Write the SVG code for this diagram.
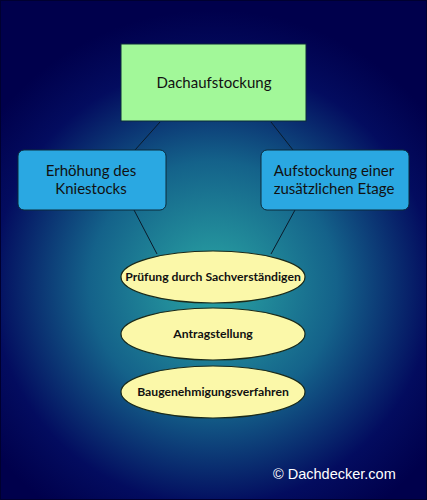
<svg xmlns="http://www.w3.org/2000/svg" width="427" height="500" viewBox="0 0 427 500">
<defs>
<radialGradient id="bg" cx="213" cy="285" r="275" gradientUnits="userSpaceOnUse">
<stop offset="0" stop-color="#2aa6a4"/>
<stop offset="0.45" stop-color="#14628a"/>
<stop offset="0.8" stop-color="#030c5f"/>
<stop offset="1" stop-color="#00004c"/>
</radialGradient>
<style>
.ln{stroke:#0a1a2a;stroke-width:1;fill:none}
.box{stroke:#0a2a3a;stroke-width:1}
.t{font-family:Lato,"Open Sans",sans-serif;fill:#111;text-anchor:middle;font-size:15px}
.e{fill:#fbf8a9;stroke:#1a2a1a;stroke-width:1.2}
.et{font-family:Lato,"Open Sans",sans-serif;fill:#111;text-anchor:middle;font-size:12.2px;font-weight:bold}
</style>
</defs>
<rect x="0" y="0" width="427" height="500" fill="url(#bg)"/>
<rect x="0.5" y="0.5" width="426" height="499" fill="none" stroke="#000030"/>
<g id="connectors">
<line class="ln" x1="160" y1="122" x2="135" y2="150"/>
<line class="ln" x1="271" y1="122" x2="293" y2="150"/>
<line class="ln" x1="134" y1="210" x2="157" y2="254"/>
<line class="ln" x1="295" y1="210" x2="271" y2="254"/>
</g>
<g id="n-dach">
<rect class="box" x="121" y="44" width="185" height="77" fill="#a2f899"/>
<text class="t" x="214" y="88">Dachaufstockung</text>
</g>
<g id="n-knie">
<rect class="box" x="18" y="150" width="148" height="60" rx="6" fill="#2aa8e2"/>
<text class="t" x="91" y="176">Erhöhung des</text>
<text class="t" x="91" y="194">Kniestocks</text>
</g>
<g id="n-etage">
<rect class="box" x="261" y="150" width="148" height="60" rx="6" fill="#2aa8e2"/>
<text class="t" x="334" y="176">Aufstockung einer</text>
<text class="t" x="334" y="194">zusätzlichen Etage</text>
</g>
<g id="n-pruef">
<ellipse class="e" cx="213" cy="277" rx="92" ry="26"/>
<text class="et" x="213" y="281">Prüfung durch Sachverständigen</text>
</g>
<g id="n-antrag">
<ellipse class="e" cx="213" cy="334" rx="92" ry="26"/>
<text class="et" x="213" y="338">Antragstellung</text>
</g>
<g id="n-bau">
<ellipse class="e" cx="213" cy="392" rx="92" ry="26"/>
<text class="et" x="213" y="396">Baugenehmigungsverfahren</text>
</g>
<text x="273" y="479" font-family="'Liberation Sans',Arial,sans-serif" font-size="14.5" fill="#ffffff">© Dachdecker.com</text>
</svg>
